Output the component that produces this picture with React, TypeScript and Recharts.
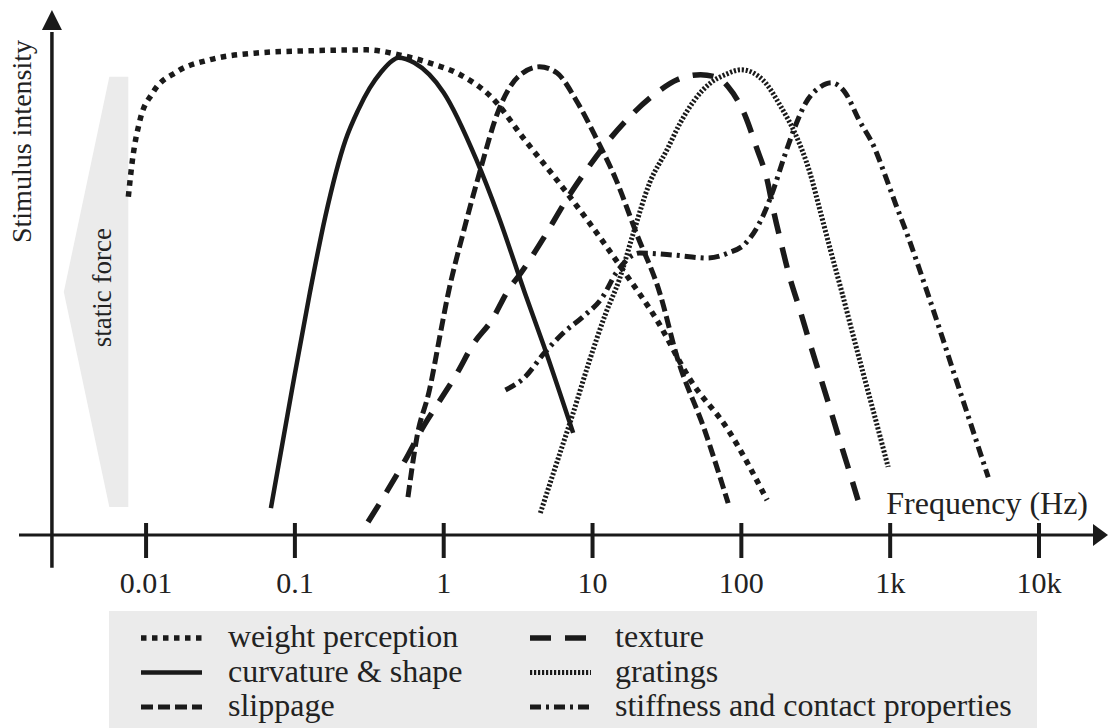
import React from "react";
import { LineChart, Line, XAxis, YAxis, ReferenceLine, ReferenceDot, ReferenceArea, Legend } from "recharts";

type Pt = [number, number]; // [frequency in Hz, stimulus intensity]

const weightPerception: Pt[] = [
  [0.0076, 67.9], [0.0081, 75.3], [0.0091, 83.3], [0.0111, 88.8], [0.0161, 93.0], [0.0267, 95.4],
  [0.0575, 96.8], [0.121, 97.2], [0.305, 97.4], [0.502, 96.4], [0.8, 94.8], [1.29, 92.4], [2.11, 87.8],
  [3.51, 79.3], [5.75, 71.3], [9.4, 62.9], [16, 53.2], [27, 43.2], [45.5, 31.1], [81.5, 21.1], [149, 7.0],
];
const curvatureShape: Pt[] = [
  [0.069, 5.4], [0.0955, 29.1], [0.126, 48.6], [0.16, 63.9], [0.219, 79.3], [0.266, 85.3], [0.318, 89.7],
  [0.381, 93.0], [0.45, 95.2], [0.495, 95.8], [0.634, 94.8], [1.0, 88.8], [1.66, 75.3], [2.34, 63.9],
  [3.51, 48.6], [4.73, 37.8], [7.41, 20.5],
];
const slippage: Pt[] = [
  [0.575, 7.6], [0.661, 19.7], [0.802, 29.1], [0.96, 41.2], [1.06, 47.8], [1.35, 60.6], [1.74, 72.7],
  [2.34, 85.3], [3.16, 92.0], [4.4, 94.0], [5.75, 92.8], [7.76, 87.3], [10.5, 79.9], [14.4, 71.3],
  [19.7, 60.6], [28.3, 48.6], [37, 35.7], [56.6, 21.1], [81.5, 6.4],
];
const texture: Pt[] = [
  [0.31, 2.6], [0.42, 9.0], [0.553, 15.1], [0.728, 21.7], [0.92, 26.5], [1.23, 32.5], [1.57, 38.2],
  [2.11, 43.2], [2.72, 49.2], [3.3, 52.6], [4.73, 59.8], [6.68, 67.3], [9.42, 73.9], [12.9, 79.3],
  [18.8, 84.7], [27, 88.8], [37, 91.4], [53.2, 92.4], [69.5, 91.8], [81.5, 90.0], [107, 83.9], [126, 77.9],
  [149, 71.3], [164, 65.3], [185, 58.6], [211, 51.8], [245, 45.6], [284, 39.2], [330, 32.9], [383, 26.7],
  [444, 20.3], [515, 14.1], [608, 7.0],
];
const gratings: Pt[] = [
  [4.46, 4.4], [5.75, 14.5], [7.41, 24.5], [9.42, 34.5], [12.3, 44.6], [15.1, 51.2], [18.8, 60.6],
  [24.2, 70.7], [31.6, 77.3], [38.8, 82.7], [48.4, 87.3], [62.3, 90.8], [77.6, 92.4], [100, 93.4],
  [139, 91.4], [185, 85.9], [229, 80.7], [289, 72.7], [341, 64.7], [402, 56.6], [475, 48.6], [560, 40.4],
  [661, 32.3], [780, 24.3], [968, 13.7],
];
const stiffnessContact: Pt[] = [
  [2.6, 29.1], [3.51, 31.7], [4.73, 36.5], [6.38, 40.6], [8.61, 43.8], [11.7, 47.8], [14.4, 52.6],
  [20.7, 56.6], [35.3, 56.2], [59.4, 55.6], [81.5, 56.6], [107, 58.6], [139, 63.9], [164, 69.3],
  [194, 75.9], [229, 81.9], [270, 86.7], [341, 90.0], [402, 90.8], [499, 88.8], [618, 83.3], [780, 77.9],
  [920, 72.4], [1093, 66.3], [1307, 60.2], [1563, 53.6], [1867, 46.8], [2234, 39.8], [2668, 32.7],
  [3190, 25.7], [3811, 18.7], [4560, 11.6],
];

const tickFreqs = [0.01, 0.1, 1, 10, 100, 1000, 10000];
const tickLabels = ["0.01", "0.1", "1", "10", "100", "1k", "10k"];

const FONT = '"Liberation Serif", "Times New Roman", serif';
const INK = "#1a1a1a";
const TEXT = "#222";
const GREY = "#ebebeb";

// where the drawn y axis crosses the frequency axis (left of the first decade)
const Y_AXIS_F = 0.00233;
const X_MIN = 0.0014;
const X_MAX = 25700;

const series = [
  { name: "weight perception", pts: weightPerception, width: 5.5, dash: "5.5 5.5" },
  { name: "curvature & shape", pts: curvatureShape, width: 4.5, dash: undefined },
  { name: "slippage", pts: slippage, width: 5, dash: "12 5" },
  { name: "texture", pts: texture, width: 5.5, dash: "21 14" },
  { name: "gratings", pts: gratings, width: 5, dash: "2.2 1.8" },
  { name: "stiffness and contact properties", pts: stiffnessContact, width: 5, dash: "11 5 3 5" },
];

const rows = (pts: Pt[]) => pts.map(([f, v]) => ({ f, v }));

function FreqTick(props: any) {
  const { x, y, payload } = props;
  const i = tickFreqs.indexOf(payload.value);
  return (
    <g>
      <line x1={x} x2={x} y1={y - 12} y2={y + 23} stroke={INK} strokeWidth={4} />
      <text x={x} y={y + 58} textAnchor="middle" fontFamily={FONT} fontSize={30} fill={TEXT}>
        {i >= 0 ? tickLabels[i] : payload.value}
      </text>
    </g>
  );
}

function FreqLabel(props: any) {
  const vb = props.viewBox || {};
  return (
    <text x={vb.x + vb.width - 12} y={vb.y - 21} textAnchor="end" fontFamily={FONT} fontSize={32} fill={TEXT}>
      Frequency (Hz)
    </text>
  );
}

function StaticForce(p: any) {
  const { x, y, width: w, height: h } = p;
  const r = x + w;
  const cy = y + h * 0.49;
  return (
    <g>
      <polygon points={`${r - 19},${y} ${r},${y} ${r},${y + h} ${r - 19},${y + h} ${x},${y + h * 0.5}`} fill={GREY} />
      <text x={r - 17} y={cy} transform={`rotate(-90 ${r - 17} ${cy})`} textAnchor="middle" fontFamily={FONT} fontSize={27} fill={TEXT}>
        static force
      </text>
    </g>
  );
}

const upArrow = (p: any) => <path d={`M${p.cx},${p.cy - 2} L${p.cx + 10},${p.cy + 18} L${p.cx - 10},${p.cy + 18} Z`} fill={INK} />;
const rightArrow = (p: any) => <path d={`M${p.cx + 8},${p.cy} L${p.cx - 7},${p.cy - 11} L${p.cx - 7},${p.cy + 11} Z`} fill={INK} />;
const yTitle = (p: any) => (
  <text x={p.cx - 21} y={p.cy} transform={`rotate(-90 ${p.cx - 21} ${p.cy})`} textAnchor="middle" fontFamily={FONT} fontSize={28} fill={TEXT}>
    Stimulus intensity
  </text>
);

function LegendBox(props: any) {
  const shown = new Set<string>((props.payload || []).map((e: any) => e.value));
  const items = shown.size ? series.filter((s) => shown.has(s.name)) : series;
  return (
    <div style={{ width: 928, height: 117, background: GREY }}>
      <svg width={928} height={117}>
        {items.map((s, i) => {
          const col = i < 3 ? 0 : 1;
          const row = i % 3;
          const sx = col ? 421 : 32;
          const tx = col ? 506 : 119;
          const cy = 27 + row * 34.5;
          return (
            <g key={s.name}>
              <line x1={sx} x2={sx + 61} y1={cy} y2={cy} stroke={INK} strokeWidth={s.width} strokeDasharray={s.dash} />
              <text x={tx} y={cy + 9} fontFamily={FONT} fontSize={32} fill={TEXT}>{s.name}</text>
            </g>
          );
        })}
      </svg>
    </div>
  );
}

export default function App() {
  return (
    <div style={{ position: "absolute", left: 0, top: 0, width: 1108, height: 728, background: "#fff" }}>
      <LineChart width={1108} height={728} margin={{ top: 12, right: 8, bottom: 133, left: 19 }}>
        <XAxis
          dataKey="f"
          type="number"
          scale="log"
          domain={[X_MIN, X_MAX]}
          allowDataOverflow
          ticks={tickFreqs}
          interval={0}
          height={60}
          tickSize={0}
          tickMargin={0}
          tickLine={false}
          tick={<FreqTick />}
          axisLine={{ stroke: INK, strokeWidth: 3 }}
          label={FreqLabel}
        />
        <YAxis type="number" domain={[0, 105]} allowDataOverflow hide />
        <ReferenceArea x1={0.0028} x2={0.0076} y1={5.6} y2={92} ifOverflow="visible" shape={StaticForce} />
        <ReferenceLine
          segment={[{ x: Y_AXIS_F, y: -6.6 }, { x: Y_AXIS_F, y: 101 }]}
          ifOverflow="visible"
          stroke={INK}
          strokeWidth={3.5}
        />
        <ReferenceDot x={Y_AXIS_F} y={105} r={1} ifOverflow="visible" shape={upArrow} />
        <ReferenceDot x={X_MAX} y={0} r={1} ifOverflow="visible" shape={rightArrow} />
        <ReferenceDot x={Y_AXIS_F} y={79} r={1} ifOverflow="visible" shape={yTitle} />
        {series.map((s) => (
          <Line
            key={s.name}
            name={s.name}
            data={rows(s.pts)}
            dataKey="v"
            type="monotone"
            stroke={INK}
            strokeWidth={s.width}
            strokeDasharray={s.dash}
            strokeLinecap="butt"
            dot={false}
            activeDot={false}
            isAnimationActive={false}
          />
        ))}
        <Legend
          layout="horizontal"
          verticalAlign="middle"
          align="center"
          content={<LegendBox />}
          wrapperStyle={{ left: 109, top: 611, width: 928, height: 117 }}
        />
      </LineChart>
    </div>
  );
}
